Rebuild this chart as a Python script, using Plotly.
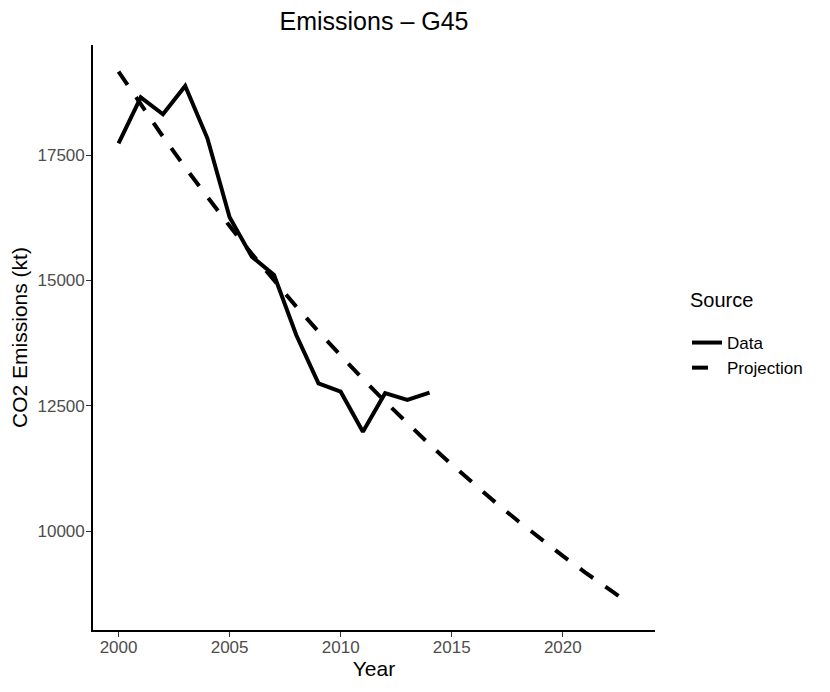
import plotly.graph_objects as go

data_years = list(range(2000, 2015))
data_values = [17733, 18650, 18311, 18876, 17833, 16258, 15473, 15108,
               13912, 12948, 12781, 11984, 12751, 12616, 12764]

proj_years = list(range(2000, 2024))
proj_values = [19163, 18503, 17866, 17251, 16657, 16083, 15529, 14994,
               14478, 13979, 13498, 13033, 12584, 12151, 11732, 11328,
               10938, 10561, 10197, 9846, 9507, 9180, 8864, 8559]

x_ticks = [2000, 2005, 2010, 2015, 2020]
y_ticks = [10000, 12500, 15000, 17500]
y_tick_labels = ["10000", "12500", "15000", "17500"]

FONT = "Liberation Sans, Arial, Helvetica, sans-serif"

# the page body has an 8px margin, margins below compensate for it
W, H = 830, 692
OFF = 8
ML, MR, MT, MB = 93 - OFF, W - 655 + OFF, 45 - OFF, H - 630 + OFF

fig = go.Figure()
fig.add_trace(go.Scatter(
    x=data_years, y=data_values, mode="lines", name="Data",
    legendgroup="a",
    line=dict(color="black", width=4), hoverinfo="skip"))
fig.add_trace(go.Scatter(
    x=proj_years, y=proj_values, mode="lines", name="Projection",
    legendgroup="b",
    line=dict(color="black", width=4, dash="16px,15px"), hoverinfo="skip"))

plot_h = H - MT - MB
plot_w = W - ML - MR

fig.update_layout(
    width=W, height=H,
    margin=dict(l=ML, r=MR, t=MT, b=MB, autoexpand=False),
    paper_bgcolor="white", plot_bgcolor="white",
    font=dict(family=FONT, color="black"),
    title=dict(text="Emissions – G45", x=0.5, xref="paper",
               y=1 - (21 - OFF) / H, yref="container", yanchor="middle",
               font=dict(size=25, color="black")),
    showlegend=True,
    legend=dict(font=dict(size=17, color="black"),
                x=(687 - 93) / plot_w, xanchor="left",
                y=(630 - 325) / plot_h, yanchor="top",
                tracegroupgap=0, bgcolor="rgba(0,0,0,0)"),
    annotations=[dict(text="Source", xref="paper", yref="paper",
                      x=(688 - 93) / plot_w, y=(630 - 300) / plot_h,
                      xanchor="left", yanchor="middle", showarrow=False,
                      font=dict(size=20, color="black"))],
)
fig.update_xaxes(
    range=[1998.85, 2024.15], tickvals=x_ticks,
    showgrid=False, zeroline=False, automargin=False,
    showline=True, linecolor="black", linewidth=1.7,
    ticks="outside", ticklen=5, tickwidth=1.2, tickcolor="#333333",
    tickfont=dict(size=17, color="#4D4D4D"), ticklabelstandoff=-4,
    title=dict(text="Year", font=dict(size=21), standoff=1),
)
fig.update_yaxes(
    range=[8030, 19693], tickvals=y_ticks, ticktext=y_tick_labels,
    showgrid=False, zeroline=False, automargin=False,
    showline=True, linecolor="black", linewidth=1.7,
    ticks="outside", ticklen=5, tickwidth=1.2, tickcolor="#333333",
    tickfont=dict(size=17, color="#4D4D4D"), ticklabelstandoff=-2,
    title=dict(text="CO2 Emissions (kt)", font=dict(size=21), standoff=12),
)

fig.write_html("out.html")
